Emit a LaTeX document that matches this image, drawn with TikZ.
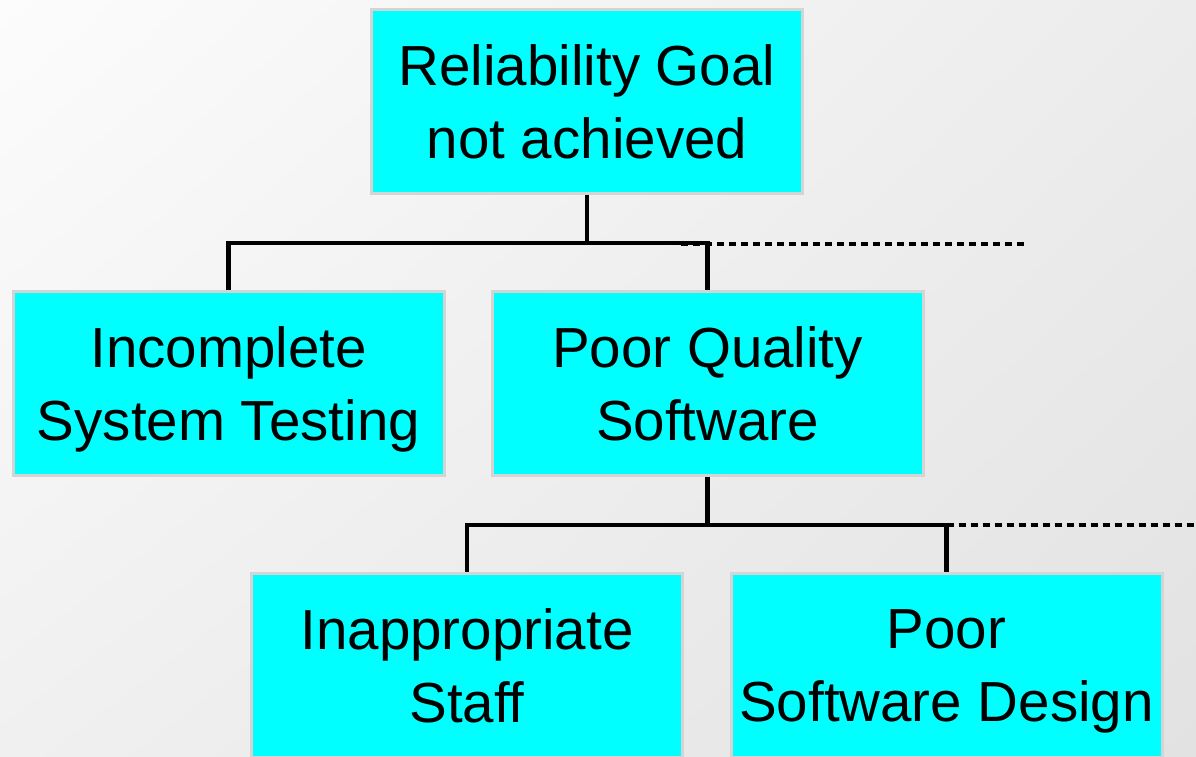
\documentclass[tikz,border=0pt]{standalone}
\usepackage{fontspec}
\setmainfont{Liberation Sans}
\usetikzlibrary{shadings}
\definecolor{bgA}{RGB}{252,252,252}
\definecolor{bgB}{RGB}{236,236,236}
\definecolor{bgC}{RGB}{240,240,240}
\definecolor{bgD}{RGB}{226,226,226}
\definecolor{boxfill}{RGB}{0,255,255}
\definecolor{boxedge}{RGB}{212,212,212}
\begin{document}
\begin{tikzpicture}[x=1pt,y=-1pt,
  cause/.style={draw=boxedge, line width=3pt,
    fill=boxfill, minimum width=431pt, minimum height=184pt,
    inner sep=0pt, align=center, text depth=0pt,
    font=\fontsize{56.5}{73}\selectfont},
  conn/.style={line width=4.5pt, line join=miter},
  openbranch/.style={line width=4.5pt, dash pattern=on 7pt off 5pt}]
  % page background with a soft grey gradient
  \shade[upper left=bgA, upper right=bgB, lower left=bgC, lower right=bgD]
    (0,0) rectangle (1196,756);
  \useasboundingbox (0,0) rectangle (1196,756);

  % fault tree boxes
  \node[cause] (goal)   at (587,101.5)   {Reliability Goal\\not achieved};
  \node[cause] (test)   at (228.5,383.5) {Incomplete\\System Testing};
  \node[cause] (poor)   at (707.5,383.5) {Poor Quality\\Software};
  \node[cause] (staff)  at (467,665.5)   {Inappropriate\\Staff};
  \node[cause] (design) at (946.5,665.5) {Poor\\Software Design};

  % open branches continuing to the right
  \coordinate (d1s) at (681,244);
  \coordinate (d1e) at (1024,244);
  \coordinate (d2e) at (1200,525);
  \draw[openbranch] (d1s) -- (d1e);
  \draw[openbranch] (design.north |- 0,525) -- (d2e);

  % first level connectors
  \draw[conn] (goal.south) -- (goal.south |- 0,243) coordinate (j1);
  \draw[conn] (test.north) |- (j1) -| (poor.north);

  % second level connectors
  \draw[conn] (poor.south) -- ++(0,48) coordinate (j2);
  \draw[conn] (staff.north) |- (j2) -| (design.north);
\end{tikzpicture}
\end{document}
